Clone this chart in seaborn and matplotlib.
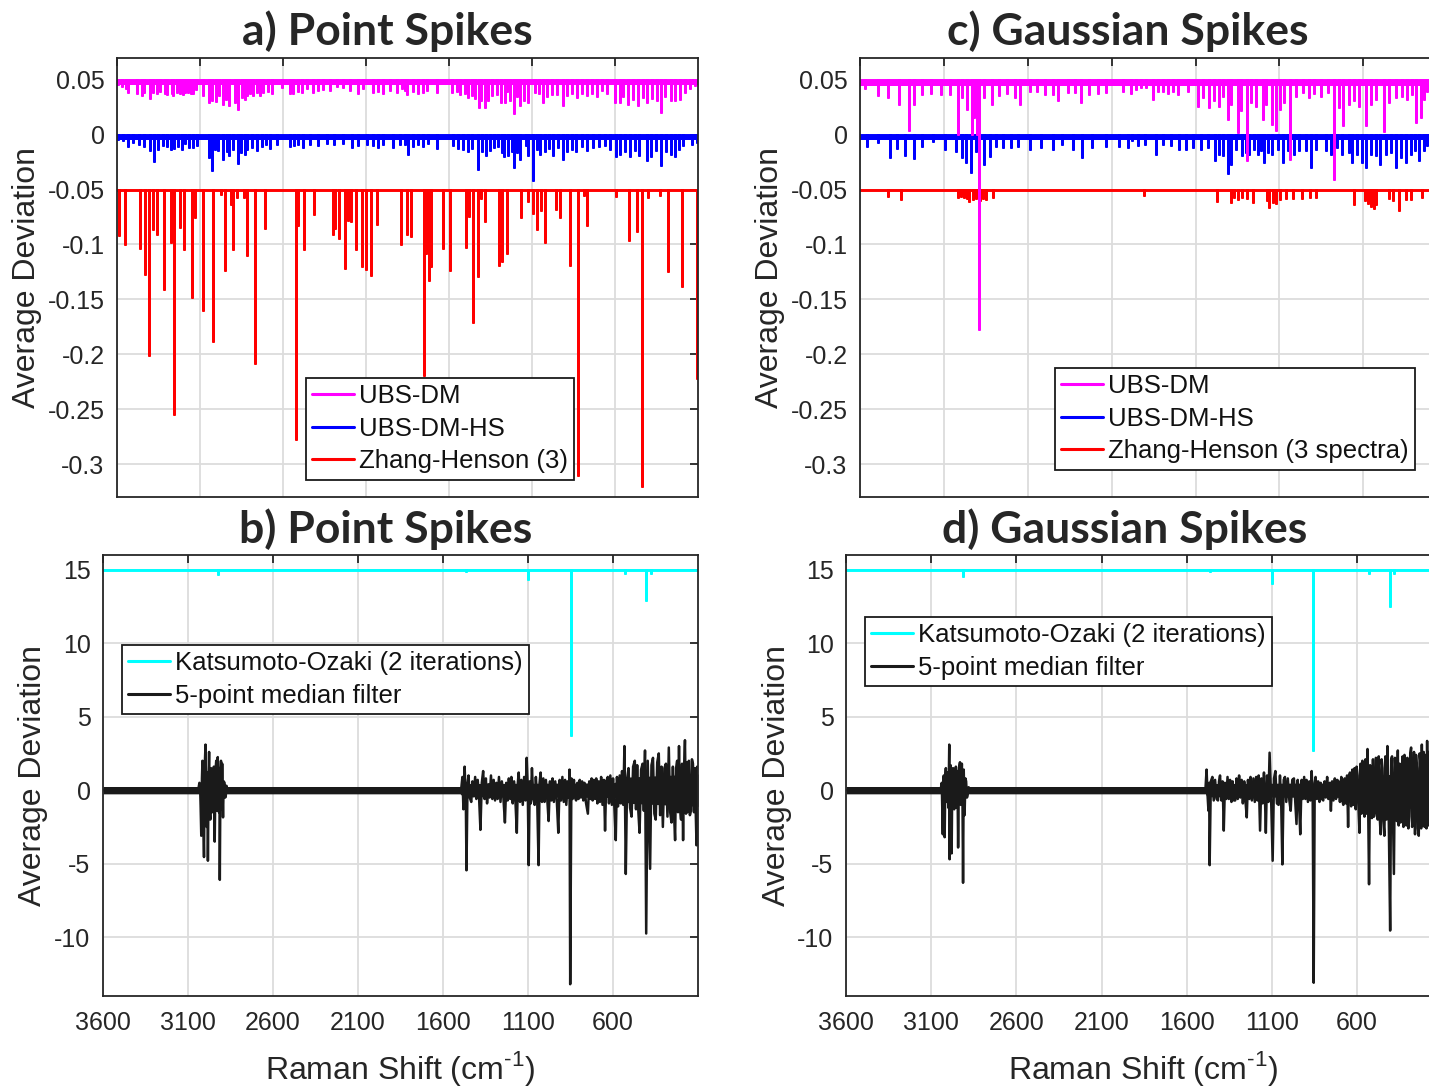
import numpy as np
import pandas as pd
import seaborn as sns
import matplotlib
matplotlib.use('Agg')
import matplotlib.pyplot as plt
from matplotlib.lines import Line2D

# ---------------- data (Raman shift in cm-1, value at spike tip) ----------------
# a) Point spikes - offset traces (UBS-DM at 0.05, UBS-DM-HS at 0, Zhang-Henson at -0.05)
a_dm_x = [3592, 3572, 3546, 3532, 3477, 3451, 3435, 3401, 3385, 3361, 3341, 3311, 3297, 3271, 3261,
          3240, 3220, 3204, 3190, 3174, 3154, 3140, 3124, 3080, 3044, 3030, 3003, 2983, 2963, 2943,
          2923, 2889, 2869, 2849, 2829, 2815, 2799, 2779, 2758, 2738, 2718, 2688, 2668, 2608, 2558,
          2538, 2508, 2487, 2457, 2417, 2387, 2357, 2317, 2277, 2236, 2196, 2146, 2116, 2056, 2026,
          1996, 1955, 1915, 1885, 1851,
          1865, 1851, 1815, 1785, 1758, 1734, 1674, 1584, 1554, 1534, 1504, 1483, 1463, 1443, 1419,
          1409, 1383, 1363, 1343, 1313, 1289, 1262, 1248, 1232, 1206, 1192, 1172, 1148, 1122, 1082,
          1056, 1032, 1011, 981, 951, 915, 891, 861, 831, 801, 771, 740, 710, 680, 650,
          600, 570, 550, 520, 493, 459, 429, 409, 379, 349, 323, 299, 265, 238, 208, 178, 148, 118]
a_dm_y = [.0464, .0448, .0424, .0388, .0382, .0364, .0388, .0333, .0388, .0382, .0394, .0382, .0373, .0382, .0358,
          .0388, .0382, .0373, .0388, .0388, .0382, .0382, .0418, .0364, .0297, .0321, .0303, .0358, .0282, .0327,
          .0273, .0297, .0236, .0342, .0327, .0358, .0382, .0364, .0388, .0364, .0388, .0403, .0382, .0433, .0382,
          .0382, .0403, .0388, .0424, .0388, .0412, .0418, .0412, .0448, .0433, .0412, .0382, .0424, .0388, .0403,
          .0382, .0412, .0388, .0424, .0373,
          .0412, .0382, .0403, .0382, .0388, .0412, .0388, .0388, .0403, .0373, .0382, .0342, .0358, .0333, .0251,
          .0321, .0251, .0312, .0358, .0373, .0297, .0297, .0403, .0312, .0200, .0352, .0273, .0321, .0297, .0388,
          .0382, .0297, .0352, .0373, .0373, .0273, .0358, .0382, .0342, .0382, .0358, .0382, .0352, .0412, .0382,
          .0297, .0297, .0352, .0282, .0327, .0273, .0342, .0297, .0333, .0321, .0206, .0352, .0312, .0321, .0327,
          .0388, .0424, .0454]
a_hs_x = [3592, 3566, 3532, 3501, 3465, 3437, 3401, 3375, 3351, 3321, 3297, 3277, 3257, 3230, 3210,
          3190, 3164, 3140, 3120, 3044, 3030, 3009, 2989, 2959, 2939, 2923, 2903, 2869, 2853, 2829,
          2815, 2789, 2758, 2728, 2702, 2678, 2638, 2558, 2534, 2508, 2477, 2437, 2387, 2337, 2293,
          2236, 2186, 2146, 2096, 2056, 2026, 1996, 1935, 1895, 1849,
          1865, 1845, 1815, 1785, 1754, 1724, 1674, 1574, 1544, 1513, 1483, 1463, 1423, 1403, 1377,
          1353, 1329, 1303, 1283, 1269, 1242, 1222, 1206, 1188, 1172, 1136, 1122, 1092, 1072, 1052,
          1022, 995, 971, 941, 915, 891, 861, 835, 801, 767, 730, 694, 660, 630, 594,
          570, 540, 509, 479, 453, 409, 385, 353, 325, 293, 265, 238, 212, 188, 138, 108]
a_hs_y = [-.0042, -.0052, -.0103, -.0067, -.0082, -.0103, -.0142, -.0242, -.0127, -.0097, -.0103, -.0127, -.0121, -.0103, -.0127,
          -.0073, -.0112, -.0112, -.0097, -.0203, -.0324, -.0127, -.0142, -.0218, -.0152, -.0188, -.0127, -.0255, -.0158, -.0173,
          -.0127, -.0112, -.0142, -.0103, -.0082, -.0121, -.0082, -.0103, -.0091, -.0082, -.0112, -.0082, -.0091, -.0073, -.0082,
          -.0073, -.0112, -.0097, -.0082, -.0097, -.0112, -.0082, -.0112, -.0082, -.0173,
          -.0082, -.0121, -.0103, -.0082, -.0103, -.0073, -.0121, -.0091, -.0121, -.0127, -.0152, -.0121, -.0309, -.0152, -.0182,
          -.0142, -.0112, -.0103, -.0158, -.0194, -.0188, -.0152, -.0294, -.0158, -.0224, -.0097, -.0188, -.0415, -.0127, -.0173,
          -.0152, -.0121, -.0188, -.0112, -.0224, -.0152, -.0127, -.0152, -.0103, -.0142, -.0112, -.0103, -.0091, -.0127, -.0194,
          -.0173, -.0152, -.0194, -.0142, -.0188, -.0233, -.0194, -.0142, -.0273, -.0152, -.0173, -.0194, -.0127, -.0097, -.0082, -.0067]
a_zh_x = [3588, 3553, 3464, 3429, 3410, 3382, 3359, 3317, 3275, 3258, 3218, 3195, 3146, 3130, 3080,
          3022, 2973, 2949, 2914, 2900, 2879, 2837, 2814, 2769, 2708, 2521, 2509, 2476, 2413, 2298,
          2284, 2265, 2224, 2207, 2188, 2162, 2125, 2102, 2073, 2031, 1889, 1854, 1831, 1749, 1737,
          1721, 1709, 1634, 1592, 1499, 1480, 1456, 1428, 1405, 1382, 1300, 1281, 1251, 1164, 1124,
          1097, 1071, 1043, 1020, 955, 929, 871, 824, 789, 766, 597, 515, 469, 440, 403,
          328, 281, 195, 105]
a_zh_y = [-.0915, -.100, -.1036, -.127, -.201, -.0855, -.0906, -.141, -.098, -.254, -.084, -.104, -.148, -.075, -.160,
          -.188, -.054, -.123, -.063, -.104, -.057, -.057, -.110, -.208, -.085, -.277, -.082, -.104, -.072, -.090,
          -.085, -.0945, -.121, -.078, -.079, -.104, -.120, -.122, -.128, -.081, -.100, -.090, -.092, -.219, -.108,
          -.132, -.120, -.103, -.123, -.102, -.074, -.171, -.129, -.058, -.079, -.119, -.115, -.108, -.075, -.060,
          -.071, -.086, -.069, -.098, -.068, -.075, -.119, -.310, -.055, -.082, -.056, -.096, -.088, -.320, -.057,
          -.055, -.124, -.138, -.222]

# c) Gaussian spikes - offset traces
c_dm_x = [3571, 3492, 3435, 3367, 3311, 3277, 3232, 3175, 3119, 3062, 3017, 2995, 2961, 2931, 2922,
          2900, 2890, 2859, 2814, 2769, 2723, 2678, 2644, 2588, 2543, 2498, 2452, 2418, 2362, 2317,
          2283, 2238, 2181, 2136, 2035,
          1984, 1954, 1924, 1894, 1855, 1825, 1795, 1765, 1736, 1706, 1646, 1587, 1553, 1518, 1488,
          1462, 1438, 1408, 1389, 1349, 1329, 1295, 1270, 1240, 1200, 1177, 1145, 1121, 1097, 1071,
          1036, 1002, 962, 923, 893, 853, 808, 774, 744, 720, 685, 655, 625, 586, 556,
          526, 476, 447, 407, 371, 338, 308, 284, 258, 238, 219, 190, 150]
c_dm_y = [.0427, .0358, .0342, .0282, .0045, .0282, .0373, .0379, .0373, .0367, .0009, .0342, .0236, .0009, .0161,
          .0009, -.177, .0342, .0282, .0358, .0379, .0348, .0282, .0403, .0397, .0373, .0367, .0312, .0388, .0388,
          .0297, .0373, .0379, .0388, .0403,
          .0378, .0418, .0433, .0433, .0327, .0403, .0403, .0378, .0403, .0373, .0403, .0266, .0342, .0251, .0312,
          .0266, .0357, .0145, .0282, .0024, .0221, -.0234, .0297, .0266, .0145, .0282, .0100, .0039, .0236, .0297,
          -.0219, .0357, .0388, .0342, .0378, .0357, .0388, -.040, .0251, .0085, .0282, .0312, .0266, .0085, .0282,
          .0327, .0033, .0297, .0342, .0357, .0327, .0373, .0115, .0161, .0327, .0403, .0420, .0350]
c_hs_x = [3559, 3492, 3424, 3379, 3333, 3277, 3232, 3164, 3096, 3028, 2995, 2967, 2938, 2909, 2859,
          2825, 2791, 2746, 2701, 2656, 2588, 2520, 2452, 2396, 2328, 2276, 2215, 2136, 2057, 2000,
          1978, 1944, 1904, 1835, 1795, 1746, 1696, 1656, 1617, 1567, 1528, 1482, 1458, 1434, 1408,
          1389, 1359, 1323, 1299, 1280, 1250, 1230, 1210, 1190, 1165, 1141, 1111, 1081, 1046, 1012,
          982, 942, 913, 883, 823, 794, 754, 724, 685, 665, 635, 605, 582, 556, 526,
          502, 467, 437, 407, 377, 348, 318, 292, 268, 238, 219]
c_hs_y = [-.010, -.007, -.0206, -.0121, -.0182, -.0212, -.010, -.0055, -.013, -.0145, -.0206, -.0251, -.0342, -.0145, -.0267,
          -.0191, -.010, -.0115, -.0115, -.010, -.013, -.0115, -.013, -.0085, -.013, -.0206, -.0115, -.010, -.010, -.011,
          -.0052, -.0097, -.0082, -.0173, -.0082, -.0097, -.0127, -.0127, -.0112, -.0127, -.0112, -.0233, -.0173, -.0188, -.0349,
          -.0264, -.0127, -.0188, -.0158, -.0173, -.0127, -.0173, -.0143, -.0249, -.0158, -.0173, -.0127, -.0249, -.0143, -.0173,
          -.0143, -.0143, -.0294, -.0127, -.0143, -.0173, -.0112, -.0173, -.0158, -.0249, -.0173, -.0249, -.0294, -.0173, -.0188,
          -.0264, -.0173, -.0158, -.0294, -.0203, -.0249, -.0173, -.0143, -.0234, -.0143, -.0097]
c_zh_x = [3435, 3356, 3017, 2999, 2983, 2961, 2949, 2927, 2909, 2886, 2870, 2848, 2809, 1910, 1470,
          1391, 1368, 1346, 1323, 1296, 1255, 1176, 1160, 1138, 1120, 1097, 1063, 1018, 966, 916,
          882, 657, 589, 573, 555, 537, 521, 447, 424, 385, 347, 318, 250]
c_zh_y = [-.056, -.059, -.0567, -.056, -.0567, -.058, -.060, -.059, -.058, -.0597, -.058, -.059, -.057, -.055, -.060,
          -.061, -.0567, -.059, -.0567, -.058, -.061, -.0597, -.0658, -.061, -.062, -.059, -.058, -.058, -.058, -.057,
          -.0567, -.0627, -.0597, -.062, -.065, -.067, -.0627, -.058, -.0597, -.0688, -.059, -.059, -.0567]
base_levels = [0.05, 0.0, -0.05]          # UBS-DM, UBS-DM-HS, Zhang-Henson offsets
comb_floor_a = [0.0455, -0.0045]          # lower edge of the dense small-spike comb
comb_floor_c = [0.0448, -0.0048]

# b) / d) Katsumoto-Ozaki (offset 15) and 5-point median filter
ko_base = 15
b_ko_x = [2926, 1467, 1100, 847, 530, 407, 379]
b_ko_y = [14.7, 14.9, 14.37, 3.74, 14.8, 12.94, 14.8]
d_ko_x = [2913, 1461, 1101, 856, 529, 405, 383]
d_ko_y = [14.6, 14.9, 14.1, 2.72, 14.8, 12.5, 14.8]

b_med_x = [3600, 3040, 3033, 3029, 3026, 3022, 3018, 3015, 3011, 3006, 3002, 2997, 2993, 2990, 2986,
           2983, 2979, 2976, 2972, 2969, 2965, 2960, 2957, 2953, 2948, 2943, 2938, 2934, 2930, 2925,
           2921, 2918, 2915, 2913, 2909, 2906, 2902, 2899, 2896, 2894, 2890, 2885, 2881, 2878, 2874,
           2870, 1500,
           1492, 1486, 1480, 1473, 1466, 1462, 1456, 1450, 1443, 1434, 1427, 1420, 1411, 1404, 1396,
           1388, 1380, 1372, 1364, 1356, 1348, 1341, 1333, 1326, 1318, 1310, 1302, 1294, 1286, 1279,
           1271, 1262, 1254, 1245, 1236, 1228, 1220, 1213, 1205, 1198, 1190, 1182, 1174, 1166, 1160,
           1155, 1147, 1139, 1131, 1123, 1115, 1108, 1102, 1096, 1090, 1084, 1077, 1069, 1061, 1054,
           1046, 1038, 1032, 1026, 1018, 1010, 1003, 995, 987, 979, 971, 963, 956, 948, 940,
           930, 922, 914, 906, 898, 890, 882, 875, 866, 860, 856, 852, 845, 838, 830,
           824, 817, 810, 803, 796, 789, 782, 775, 768, 760, 748, 740, 733, 726, 720,
           713, 706, 699, 692, 684, 677, 670, 662, 654, 647, 640, 631, 624, 616, 607,
           600, 592, 584, 577, 570, 561, 554, 547, 540, 533, 525, 517, 509, 500, 491,
           482, 472, 465, 458, 451, 444, 435, 426, 419, 412, 405, 396, 389, 382, 374,
           365, 357, 349, 340, 331, 323, 315, 307, 298, 289, 280, 272, 264, 256, 248,
           242, 235, 229, 223, 218, 212, 206, 200, 194, 188, 182, 177, 171, 166, 160,
           154, 148, 142, 136, 130, 124, 118, 113, 109, 105, 102]
b_med_y = [0, 0, 0.5, 0.3, -1.0, -3.1, 0.8, 2.0, -1.2, -4.55, 1.5, 3.1, -1.0, -2.5, 1.2,
           -4.8, 1.0, 2.6, -1.2, -2.0, 1.5, 1.4, -1.5, -1.0, 1.6, -3.5, 1.4, 2.0, -1.4, 2.25,
           -0.8, -1.5, 1.5, -6.1, 1.2, 2.0, -1.3, 1.8, -0.8, -1.85, 0.6, 0.5, -0.5, -0.4, 0.3,
           0, 0,
           0.2, 0.9, -1.3, 1.6, -0.6, -5.45, 0.4, 1.0, -0.5, -0.8, 0.6, -0.4, 0.9, -0.6, 0.7,
           -0.5, -2.7, 0.5, 1.3, -0.6, 0.8, -0.9, 0.4, -0.5, 1.0, -0.6, 0.7, -0.7, 0.5, -0.6,
           0.9, -0.8, 0.6, -0.5, -2.2, 0.5, -0.7, 0.8, -0.6, 0.9, -0.9, 0.6, -0.8, -2.9, 0.5,
           1.2, -0.8, 0.7, -1.0, 0.9, -0.7, 2.2, 0.3, -5.1, 0.6, -0.9, 1.5, -0.6, -1.0, 0.9,
           -0.7, -5.1, 0.5, 1.2, -0.8, 0.8, -0.8, 0.7, -0.6, -2.1, 0.6, -0.7, 0.8, -0.8, 0.6,
           -0.9, -2.9, 0.7, -0.7, 0.9, -0.8, 0.7, -1.0, 0.6, -0.5, 1.4, -13.2, 0.8, -0.6, 0.7,
           -0.5, -0.7, 0.5, -0.6, 0.7, -0.5, 0.6, -0.7, 0.5, -0.8, -1.6, 0.6, -0.6, 0.8, -0.7,
           0.7, -0.6, 0.8, -0.9, 0.6, -0.8, 0.9, -1.0, 0.7, -2.75, 0.6, 0.9, -0.9, 1.0, -1.0,
           0.8, -1.2, -3.4, 0.9, -1.1, 1.0, -0.9, 1.3, -1.0, 3.0, -5.7, 0.8, 1.5, -1.2, -1.8,
           1.6, 2.0, -1.3, 1.7, -1.5, -2.9, 1.4, 1.8, -1.4, 2.7, -9.75, 2.0, -1.6, -5.35, 1.7,
           2.2, -1.6, -2.0, 1.9, 2.5, -1.7, 1.6, -2.5, 1.5, 1.8, -1.8, 2.9, -1.5, -2.2, 1.6,
           -1.4, -3.4, 1.5, 2.0, -1.5, 3.0, -1.2, -2.0, 1.8, -3.4, 1.6, 3.4, -1.6, 1.9, -1.5,
           2.0, -1.7, -1.4, 2.1, 1.8, -1.5, 1.5, -1.8, -3.75, 1.6, 1.0]
b_env_x = [3600, 1500, 1480, 600, 500, 100]
b_env_hi = [0.25, 0.25, 0.45, 0.5, 0.9, 1.1]
b_env_lo = [-0.25, -0.25, -0.45, -0.5, -0.9, -1.1]

d_med_x = [3600, 3045, 3038, 3032, 3029, 3026, 3023, 3021, 3017, 3014, 3012, 3010, 3004, 2999, 2994,
           2992, 2989, 2986, 2983, 2980, 2976, 2972, 2968, 2965, 2960, 2955, 2950, 2946, 2942, 2937,
           2931, 2926, 2920, 2916, 2913, 2909, 2904, 2899, 2895, 2890, 2886, 2880, 2878, 1490,
           1483, 1477, 1472, 1468, 1465, 1458, 1449, 1441, 1433, 1424, 1416, 1410, 1404, 1396, 1389,
           1382, 1375, 1367, 1360, 1352, 1345, 1337, 1330, 1322, 1315, 1307, 1300, 1292, 1285, 1277,
           1270, 1262, 1255, 1247, 1240, 1232, 1225, 1217, 1208, 1200, 1192, 1184, 1177, 1169, 1161,
           1154, 1146, 1140, 1135, 1128, 1120, 1113, 1104, 1095, 1087, 1079, 1070, 1060, 1052, 1045,
           1038, 1030, 1023, 1015, 1006, 997, 989, 980, 970, 962, 955, 948, 940, 933, 925,
           918, 910, 903, 896, 888, 880, 873, 866, 860, 854, 848, 843, 835, 828, 820,
           813, 806, 798, 790, 783, 775, 768, 760, 753, 746, 738, 730, 723, 716, 708,
           700, 692, 686, 680, 672, 665, 658, 652, 647, 641, 634, 627, 620, 614, 607,
           602, 596, 590, 585, 579, 573, 568, 562, 556, 550, 544, 538, 529, 523, 518,
           512, 506, 500, 495, 489, 484, 478, 472, 466, 461, 455, 450, 445, 439, 433,
           427, 421, 413, 405, 399, 394, 388, 383, 377, 372, 366, 360, 355, 349, 344,
           338, 332, 327, 321, 315, 310, 304, 298, 293, 287, 282, 276, 270, 265, 259,
           253, 248, 242, 237, 232, 228, 223, 219, 213, 208, 203, 199, 196, 192, 188,
           182, 176, 170, 164, 158, 150, 142, 135, 130, 120, 110, 100]
d_med_y = [0, 0, 0.5, -3.0, 0.6, 1.0, -1.0, -3.2, 0.8, 1.5, -0.8, 0.2, 1.2, -1.2, 3.1,
           -4.7, 1.0, 1.7, -1.5, -4.3, 1.0, 1.5, -1.0, -1.3, 1.2, 1.6, -1.2, 1.3, -3.9, 1.5,
           1.9, -1.0, 1.8, -1.2, -6.3, 1.4, -1.7, 0.8, 0.6, -0.5, -0.3, 0.2, 0, 0,
           1.4, -0.4, -1.4, 0.5, -5.1, 0.6, 0.9, -0.7, 0.7, -0.6, -0.7, 0.6, 1.0, -0.7, 0.6,
           -2.75, 0.5, -0.6, 0.9, -0.6, 0.7, -0.8, 0.6, -0.7, -0.7, 0.8, -0.6, 1.0, -0.5, 0.7,
           -0.9, 0.6, -0.7, -1.85, 0.7, -0.6, 0.9, -0.7, 0.8, -0.8, 0.9, -0.7, 1.0, -2.75, 0.8,
           -0.9, 1.2, -0.6, -2.9, 1.0, -0.8, 2.55, -0.6, -4.8, 0.8, 1.3, -0.9, -1.0, 1.0, -0.8,
           -5.05, 0.7, 0.9, -0.8, 0.8, -0.7, -1.4, 0.7, 0.8, -0.9, -2.3, 0.7, -0.8, -3.0, 0.7,
           -0.6, 0.9, -0.6, 0.7, -0.8, 0.6, -0.7, 1.3, -0.4, -13.1, 0.5, 0.9, -0.6, 0.6, -0.8,
           0.5, -0.6, -0.7, 0.6, -0.5, 0.9, -0.6, 0.5, -1.4, 0.6, -0.7, 0.8, -0.6, 0.7, 0.6,
           -0.8, 0.9, -0.7, -1.0, 0.8, -0.9, 1.0, -2.5, 0.9, 1.2, -1.1, 1.4, -1.0, 1.5, -1.3,
           1.6, 1.0, -1.5, -2.9, 1.8, -1.6, 2.0, 1.2, -1.8, 2.1, -1.6, 2.8, -6.4, 1.7, 1.5,
           -1.9, 2.1, -1.8, -1.5, 2.2, 2.0, -2.0, 2.3, -1.9, -3.0, 2.1, 1.5, -2.1, -3.1, 2.3,
           -2.0, 3.0, -2.2, -9.55, 2.1, 2.3, -2.3, -5.7, 2.2, 1.0, -2.1, 2.7, -2.4, 1.8, -2.2,
           -1.5, 2.3, -2.5, 2.4, 1.5, -2.4, 2.2, -2.6, -1.8, 2.5, 2.9, -2.5, -1.5, 2.6, -3.0,
           2.4, 1.5, -2.6, -3.1, 2.5, 2.0, -2.6, 3.1, -2.4, 2.6, -2.5, 2.4, 1.5, -2.6, 3.35,
           -2.4, 2.6, -2.5, 2.5, -2.7, 2.5, -2.5, 2.4, -2.0, 2.3, 2.0, 0]
d_env_x = [3600, 1490, 1480, 600, 500, 100]
d_env_hi = [0.25, 0.25, 0.45, 0.5, 1.0, 1.3]
d_env_lo = [-0.25, -0.25, -0.45, -0.5, -1.0, -1.4]

x_ticks = [3600, 3100, 2600, 2100, 1600, 1100, 600]
top_yticks = [-0.3, -0.25, -0.2, -0.15, -0.1, -0.05, 0, 0.05]
top_ylabels = ['-0.3', '-0.25', '-0.2', '-0.15', '-0.1', '-0.05', '0', '0.05']
bot_yticks = [-10, -5, 0, 5, 10, 15]
bot_ylabels = ['-10', '-5', '0', '5', '10', '15']

MAG, BLU, RED, CYA = '#ff00ff', '#0000ff', '#ff0000', '#00ffff'
W, H = 1429, 1088
LW = 2.1

sns.set_theme(style='white')
plt.rcParams['font.family'] = ['Liberation Sans', 'DejaVu Sans']
plt.rcParams['mathtext.fontset'] = 'custom'
plt.rcParams['mathtext.rm'] = 'Liberation Sans'


def spike_frame(xs, ys, base):
    # baseline with a vertical excursion at every listed spike
    xs = np.asarray(xs, float)
    ys = np.asarray(ys, float)
    o = np.argsort(xs)[::-1]
    xs, ys = xs[o], ys[o]
    b = np.full_like(ys, base)
    px = np.concatenate([[3600], np.repeat(xs, 3), [100]])
    py = np.concatenate([[base], np.column_stack([b, ys, b]).ravel(), [base]])
    return pd.DataFrame({'x': px, 'y': py})


def draw(ax, df, color, lw=LW):
    sns.lineplot(data=df, x='x', y='y', ax=ax, color=color, lw=lw, estimator=None,
                 sort=False, errorbar=None, legend=False)


def style(ax, yt, yl, ylim, xlabels):
    ax.set_xlim(3600, 100)
    ax.set_ylim(*ylim)
    ax.set_xticks(x_ticks)
    ax.set_xticklabels([str(t) for t in x_ticks] if xlabels else [])
    ax.set_yticks(yt)
    ax.set_yticklabels(yl)
    ax.set_xlabel('')
    ax.set_ylabel('')
    ax.grid(True, color='#dcdcdc', lw=1.3)
    ax.set_axisbelow(True)
    ax.tick_params(direction='in', length=6, width=1.3, top=True, right=True,
                   labelsize=18, colors='#262626', pad=9)
    ax.tick_params(axis='x', pad=11)
    for s in ax.spines.values():
        s.set_color('#262626')
        s.set_linewidth(1.3)


def legend(ax, labels, colors, x0, y0):
    hs = [Line2D([], [], color=c, lw=2.2) for c in colors]
    leg = ax.legend(hs, labels, loc='upper left', bbox_to_anchor=(x0 / W, 1 - y0 / H),
                    bbox_transform=fig.transFigure, frameon=True, fancybox=False,
                    edgecolor='#1a1a1a', framealpha=1, fontsize=18.5, handlelength=1.6,
                    handletextpad=0.2, borderpad=0.25, labelspacing=0.33, borderaxespad=0)
    leg.get_frame().set_linewidth(1.3)
    for t in leg.get_texts():
        t.set_color('#111111')


fig = plt.figure(figsize=(W / 100 + 0.001, H / 100 + 0.001), dpi=100)
ax_a = fig.add_axes([117 / W, 1 - 497 / H, 581 / W, 439 / H])
ax_c = fig.add_axes([860 / W, 1 - 497 / H, 587 / W, 439 / H])
ax_b = fig.add_axes([103 / W, 1 - 996 / H, 595 / W, 441 / H])
ax_d = fig.add_axes([846 / W, 1 - 996 / H, 596 / W, 441 / H])

# top panels
for ax, (dmx, dmy, hsx, hsy, zhx, zhy), floor in [
        (ax_a, (a_dm_x, a_dm_y, a_hs_x, a_hs_y, a_zh_x, a_zh_y), comb_floor_a),
        (ax_c, (c_dm_x, c_dm_y, c_hs_x, c_hs_y, c_zh_x, c_zh_y), comb_floor_c)]:
    draw(ax, spike_frame(zhx, zhy, base_levels[2]), RED)
    ax.fill_between([3600, 100], floor[1], base_levels[1], color=BLU, lw=0)
    draw(ax, spike_frame(hsx, hsy, base_levels[1]), BLU)
    ax.fill_between([3600, 100], floor[0], base_levels[0], color=MAG, lw=0)
    draw(ax, spike_frame(dmx, dmy, base_levels[0]), MAG)
    style(ax, top_yticks, top_ylabels, (-0.33, 0.07), False)

legend(ax_a, ['UBS-DM', 'UBS-DM-HS', 'Zhang-Henson (3)'], [MAG, BLU, RED], 306, 378)
legend(ax_c, ['UBS-DM', 'UBS-DM-HS', 'Zhang-Henson (3 spectra)'], [MAG, BLU, RED], 1055, 368)

# bottom panels
for ax, mx, my, ex, ehi, elo, kx, ky in [
        (ax_b, b_med_x, b_med_y, b_env_x, b_env_hi, b_env_lo, b_ko_x, b_ko_y),
        (ax_d, d_med_x, d_med_y, d_env_x, d_env_hi, d_env_lo, d_ko_x, d_ko_y)]:
    ax.fill_between(ex, elo, ehi, color='k', lw=0)
    draw(ax, pd.DataFrame({'x': mx, 'y': my}), 'k', lw=1.8)
    draw(ax, spike_frame(kx, ky, ko_base), CYA)
    style(ax, bot_yticks, bot_ylabels, (-14, 16), True)

legend(ax_b, ['Katsumoto-Ozaki (2 iterations)', '5-point median filter'], [CYA, 'k'], 122, 645)
legend(ax_d, ['Katsumoto-Ozaki (2 iterations)', '5-point median filter'], [CYA, 'k'], 865, 617)

# panel titles and axis labels
for txt, x, y in [('a) Point Spikes', 387, 45), ('c) Gaussian Spikes', 1128, 45),
                  ('b) Point Spikes', 386, 543), ('d) Gaussian Spikes', 1125, 543)]:
    fig.text(x / W, 1 - y / H, txt, ha='center', va='baseline', fontsize=32,
             fontweight='bold', family=['Lato', 'DejaVu Sans'])
for x, y in [(27, 277), (33, 775), (770, 277), (777, 775)]:
    fig.text(x / W, 1 - y / H, 'Average Deviation', rotation=90, ha='center', va='center',
             fontsize=23, color='#262626')
for x in [400, 1143]:
    fig.text(x / W, 1 - 1068 / H, r'Raman Shift (cm$^{\text{-}1}$)', ha='center', va='center',
             fontsize=23, color='#262626')

fig.savefig('out.png', dpi=100)
